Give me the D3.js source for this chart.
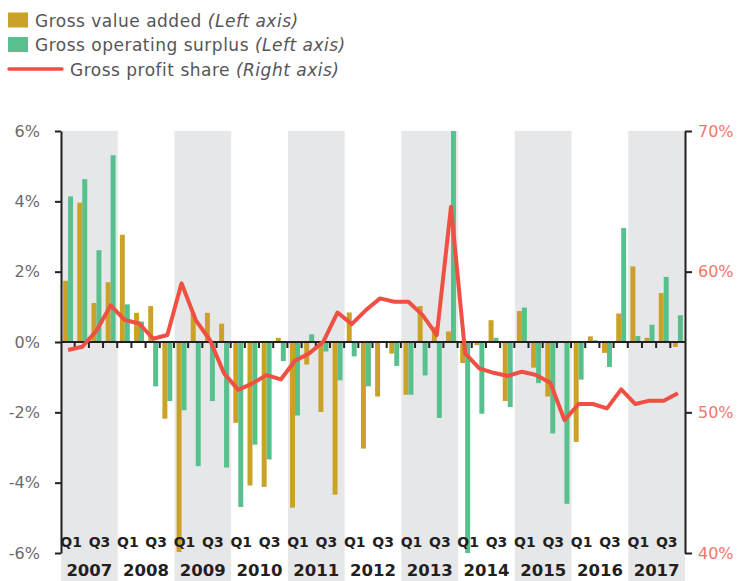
<!DOCTYPE html>
<html lang="en">
<head>
<meta charset="UTF-8">
<title>Gross value added, operating surplus and profit share</title>
<script src="https://cdn.jsdelivr.net/npm/d3@7/dist/d3.min.js"></script>
<style>
  body { margin: 0; background: #fff; }
  text { font-family: "DejaVu Sans", sans-serif; }
</style>
</head>
<body>
<script>
// quarterly data, 2007 Q1 .. 2017 Q4
var years = ["2007","2008","2009","2010","2011","2012","2013","2014","2015","2016","2017"];
var qNames = ["Q1","Q2","Q3","Q4"];
var shadedYears = ["2007","2009","2011","2013","2015","2017"];

// gross value added, % (left axis)
var gva = [1.74, 3.96, 1.11, 1.70,  3.05, 0.83, 1.02, -2.18,  -5.97, 0.83, 0.83, 0.52,
           -2.30, -4.08, -4.12, 0.12,  -4.71, -0.64, -1.99, -4.34,  0.84, -3.03, -1.55, -0.33,
           -1.50, 1.02, 0.43, 0.30,  -0.60, -0.09, 0.62, -1.68,  0.88, -0.73, -1.55, 0,
           -2.84, 0.16, -0.31, 0.81,  2.15, 0.12, 1.39, -0.14];
// gross operating surplus, % (left axis)
var gos = [4.14, 4.63, 2.61, 5.31,  1.07, 0.58, -1.26, -1.68,  -1.94, -3.53, -1.68, -3.57,
           -4.69, -2.92, -3.34, -0.54,  -2.09, 0.22, -0.27, -1.09,  -0.41, -1.26, 0, -0.68,
           -1.50, -0.95, -2.16, 6.0,  -6.0, -2.04, 0.12, -1.85,  0.98, -1.17, -2.60, -4.60,
           -1.07, 0.05, -0.71, 3.24,  0.17, 0.49, 1.85, 0.76];
// gross profit share, % (right axis)
var share = [54.43, 54.66, 55.8, 57.6,  56.56, 56.32, 55.23, 55.5,  59.17, 56.56, 55.14, 52.77,
             51.6, 52.06, 52.65, 52.34,  53.67, 54.19, 55.02, 57.1,  56.27, 57.27, 58.1, 57.86,
             57.86, 56.91, 55.49, 64.61,  54.19, 53.12, 52.81, 52.58,  52.89, 52.65, 52.1, 49.45,
             50.59, 50.59, 50.28, 51.63,  50.59, 50.83, 50.83, 51.35];

var leftTicks = [-6, -4, -2, 0, 2, 4, 6];
var rightTicks = [40, 50, 60, 70];
var legendItems = [
    {name: "Gross value added ", note: "(Left axis)", kind: "bar", color: "#c9a227"},
    {name: "Gross operating surplus ", note: "(Left axis)", kind: "bar", color: "#57c08d"},
    {name: "Gross profit share ", note: "(Right axis)", kind: "line", color: "#f04f44"}
];

var quarters = [];
years.forEach(function(y) { qNames.forEach(function(q) { quarters.push(y + " " + q); }); });

var W = 739, H = 581;
var xLeft = 61, xRight = 685, yTop = 131, yBottom = 553;
var pIn = 0.3;

var svg = d3.select("body").append("svg")
    .attr("width", W)
    .attr("height", H);

var x = d3.scaleBand().domain(quarters).range([xLeft, xRight]).paddingInner(pIn).paddingOuter(pIn / 2);
var xs = d3.scaleBand().domain(["gva", "gos"]).range([0, x.bandwidth()]);
var yL = d3.scaleLinear().domain([-6, 6]).range([yBottom, yTop]);
var yR = d3.scaleLinear().domain([40, 70]).range([yBottom, yTop]);

function edge(q) { return x(q) - x.step() * pIn / 2; }

// grey bands for every other year
svg.append("g").selectAll("rect")
    .data(shadedYears)
    .join("rect")
    .attr("x", function(y) { return edge(y + " Q1"); })
    .attr("y", yTop)
    .attr("width", x.step() * 4)
    .attr("height", H - yTop)
    .attr("fill", "#e6e7e8");

// bars
var bars = svg.append("g");
bars.selectAll("rect.gva")
    .data(quarters)
    .join("rect")
    .attr("class", "gva")
    .attr("x", function(q) { return x(q) + xs("gva"); })
    .attr("y", function(q, i) { return yL(Math.max(0, gva[i])); })
    .attr("width", xs.bandwidth())
    .attr("height", function(q, i) { return Math.abs(yL(gva[i]) - yL(0)); })
    .attr("fill", legendItems[0].color);
bars.selectAll("rect.gos")
    .data(quarters)
    .join("rect")
    .attr("class", "gos")
    .attr("x", function(q) { return x(q) + xs("gos"); })
    .attr("y", function(q, i) { return yL(Math.max(0, gos[i])); })
    .attr("width", xs.bandwidth())
    .attr("height", function(q, i) { return Math.abs(yL(gos[i]) - yL(0)); })
    .attr("fill", legendItems[1].color);

// zero line with quarter ticks
svg.append("line")
    .attr("x1", xLeft).attr("x2", xRight)
    .attr("y1", yL(0)).attr("y2", yL(0))
    .attr("stroke", "#231f20").attr("stroke-width", 2);
svg.append("g").selectAll("line")
    .data(quarters.slice(1))
    .join("line")
    .attr("x1", function(q) { return edge(q) - 0.5; })
    .attr("x2", function(q) { return edge(q) - 0.5; })
    .attr("y1", yL(0)).attr("y2", yL(0) + 6)
    .attr("stroke", "#231f20").attr("stroke-width", 2);

// profit share line
var line = d3.line()
    .x(function(d, i) { return x(quarters[i]) + x.bandwidth() / 2; })
    .y(function(d) { return yR(d); });
svg.append("path")
    .datum(share)
    .attr("d", line)
    .attr("fill", "none")
    .attr("stroke", legendItems[2].color)
    .attr("stroke-width", 4)
    .attr("stroke-linejoin", "round");

// axes
var axL = svg.append("g")
    .attr("transform", "translate(" + xLeft + ",0)")
    .call(d3.axisLeft(yL).tickValues(leftTicks).tickFormat(function(d) { return d + "%"; })
        .tickSize(6).tickSizeOuter(0).tickPadding(15));
var axR = svg.append("g")
    .attr("transform", "translate(" + xRight + ",0)")
    .call(d3.axisRight(yR).tickValues(rightTicks).tickFormat(function(d) { return d + "%"; })
        .tickSize(7).tickSizeOuter(0).tickPadding(6));
[axL, axR].forEach(function(a) {
    a.select(".domain").attr("stroke", "#231f20").attr("stroke-width", 2);
    a.selectAll(".tick line").attr("stroke", "#231f20").attr("stroke-width", 2);
    a.selectAll(".tick text").attr("font-size", 16).attr("font-family", "DejaVu Sans, sans-serif");
});
axL.selectAll(".tick text").attr("fill", "#6a6b6d");
axR.selectAll(".tick text").attr("fill", "#f3766b");

// quarter and year labels
svg.append("g").selectAll("text")
    .data(quarters.filter(function(q) { return /Q1|Q3/.test(q); }))
    .join("text")
    .attr("x", function(q) { return x(q) + x.bandwidth() / 2 + 3; })
    .attr("y", 547)
    .attr("text-anchor", "middle")
    .attr("font-family", "Open Sans, sans-serif")
    .attr("font-size", 14)
    .attr("font-weight", 700)
    .attr("fill", "#231f20")
    .text(function(q) { return q.split(" ")[1]; });
svg.append("g").selectAll("text")
    .data(years)
    .join("text")
    .attr("x", function(y) { return edge(y + " Q1") + x.step() * 2; })
    .attr("y", 576)
    .attr("text-anchor", "middle")
    .attr("font-family", "Open Sans, sans-serif")
    .attr("font-size", 16.5)
    .attr("font-weight", 600)
    .attr("fill", "#231f20")
    .text(function(y) { return y; });

// legend
var lg = svg.append("g");
legendItems.forEach(function(d, i) {
    var cy = 20 + i * 24.5;
    if (d.kind === "bar") {
        lg.append("rect").attr("x", 8).attr("y", cy - 7.5).attr("width", 20).attr("height", 15).attr("fill", d.color);
    } else {
        lg.append("line").attr("x1", 9).attr("x2", 62).attr("y1", cy).attr("y2", cy)
            .attr("stroke", d.color).attr("stroke-width", 3.5).attr("stroke-linecap", "round");
    }
    var t = lg.append("text")
        .attr("x", d.kind === "bar" ? 35 : 70)
        .attr("y", cy + 6.5)
        .attr("font-size", 17)
        .attr("letter-spacing", 0.5)
        .attr("fill", "#555557");
    t.append("tspan").text(d.name);
    t.append("tspan").attr("font-style", "italic").text(d.note);
});
</script>
</body>
</html>
